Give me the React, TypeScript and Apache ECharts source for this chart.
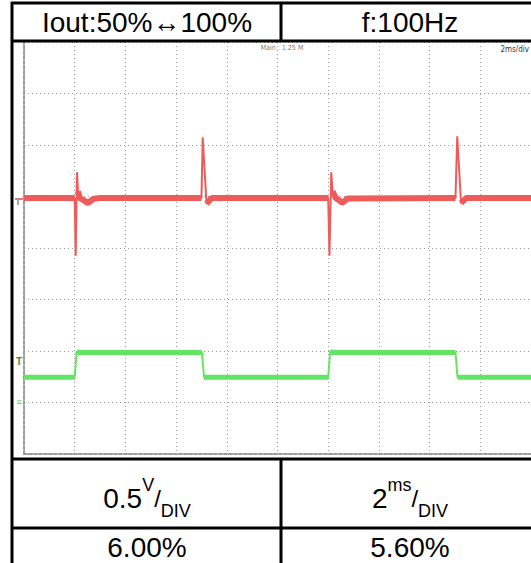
import { useEffect, useRef } from "react";
import * as echarts from "echarts";

// ---- data (time in ms, level in vertical divisions from the bottom of the screen) ----
const redTimeMs = [0, 2.0, 2.04, 2.09, 2.13, 2.2, 2.35, 2.52, 2.72, 3.0, 7.0, 7.05, 7.2, 7.4, 12.0, 12.05, 12.12, 12.17, 12.3, 12.56, 12.76, 17.02, 17.09, 17.24, 17.44, 20];
const redDiv = [4.97, 4.97, 3.85, 5.47, 5.1, 4.97, 4.93, 4.87, 4.95, 4.97, 4.97, 6.15, 4.86, 4.97, 4.97, 3.85, 5.47, 5.1, 4.97, 4.88, 4.96, 4.97, 6.17, 4.87, 4.97, 4.97];
const greenTimeMs = [0, 2.0, 2.08, 2.15, 7.02, 7.1, 12.0, 12.08, 12.15, 17.02, 17.1, 20];
const greenDiv = [1.49, 1.49, 2.0, 1.97, 1.97, 1.49, 1.49, 2.0, 1.97, 1.97, 1.49, 1.49];
const xMinMs = 0;
const xMaxMs = 20;
const xStepMs = 2;
const yMinDiv = 0;
const yMaxDiv = 8;
const redBaseline = 4.97;

const headerLabels = ["Iout:50%\u2194100%", "f:100Hz"];
const scaleNumbers = ["0.5", "2"];
const scaleUnits = ["V", "ms"];
const deviationLabels = ["6.00%", "5.60%"];
const topInfo = ["Main : 1.25 M", "2ms/div"];

const RED = "#ef5b5b";
const GREEN = "#63e563";
const FONT = "'Liberation Sans', Arial, Helvetica, sans-serif";

function zip(t: number[], v: number[]) {
  return t.map((x, i) => [x, v[i]]);
}

// thick "noise band" of the trace: flat parts only, broken where the trace jumps
function bandRed(t: number[], v: number[]) {
  return t.map((x, i) => [x, Math.abs(v[i] - redBaseline) < 0.2 ? v[i] : null]);
}
function bandSteps(t: number[], v: number[]) {
  const out: any[] = [];
  for (let i = 0; i < t.length; i++) {
    if (i > 0 && Math.abs(v[i] - v[i - 1]) > 0.2) {
      out.push([(t[i] + t[i - 1]) / 2, null]);
    }
    out.push([t[i], v[i]]);
  }
  return out;
}

export default function App() {
  const ref = useRef<HTMLDivElement>(null);
  useEffect(() => {
    if (!ref.current) return;
    const chart = echarts.init(ref.current, undefined, { renderer: "svg" });
    const L = 12; // table left border
    const MID = 281; // column divider
    const W = 531;
    const thick = 3;
    const black = "#000";
    const line = (x1: number, y1: number, x2: number, y2: number, w = thick) => ({
      type: "line",
      shape: { x1, y1, x2, y2 },
      style: { stroke: black, lineWidth: w },
      z: 10,
    });
    const colCenters = [147, 410];
    const scaleRich = (i: number) => ({
      type: "text",
      x: colCenters[i],
      y: 498,
      z: 10,
      style: {
        text: `{n|${scaleNumbers[i]}}{u|${scaleUnits[i]}}{s|/}{d|DIV}`,
        textAlign: "center",
        textVerticalAlign: "middle",
        fill: "#000",
        rich: {
          n: { fontSize: 28, fontFamily: FONT, lineHeight: 44, verticalAlign: "middle", fill: "#000" },
          u: { fontSize: 18, fontFamily: FONT, lineHeight: 44, verticalAlign: "top", fill: "#000" },
          s: { fontSize: 24, fontFamily: FONT, lineHeight: 44, verticalAlign: "middle", fill: "#000" },
          d: { fontSize: 18, fontFamily: FONT, lineHeight: 44, verticalAlign: "bottom", fill: "#000" },
        },
      },
    });
    const bigText = (text: string, x: number, y: number) => ({
      type: "text",
      x,
      y,
      z: 10,
      style: {
        text,
        fill: "#000",
        font: `28px ${FONT}`,
        textAlign: "center",
        textVerticalAlign: "middle",
      },
    });

    chart.setOption({
      animation: false,
      backgroundColor: "#fff",
      grid: { left: 24, right: -1, top: 42, bottom: 109, containLabel: false },
      xAxis: {
        type: "value",
        min: xMinMs,
        max: xMaxMs,
        interval: xStepMs,
        axisLabel: { show: false },
        axisTick: { show: false },
        axisLine: { show: true, lineStyle: { color: "#9a9a9a", width: 2, type: [3, 2] } },
        splitLine: { show: true, lineStyle: { color: "#999", width: 1, type: [1, 3] } },
      },
      yAxis: {
        type: "value",
        min: yMinDiv,
        max: yMaxDiv,
        interval: 1,
        axisLabel: { show: false },
        axisTick: { show: false },
        axisLine: { show: true, lineStyle: { color: "#9a9a9a", width: 2, type: [3, 2] } },
        splitLine: { show: true, lineStyle: { color: "#999", width: 1, type: [1, 3] } },
      },
      series: [
        {
          type: "line",
          data: bandSteps(greenTimeMs, greenDiv),
          showSymbol: false,
          connectNulls: false,
          lineStyle: { color: GREEN, width: 5 },
          z: 3,
        },
        {
          type: "line",
          data: zip(greenTimeMs, greenDiv),
          showSymbol: false,
          lineStyle: { color: GREEN, width: 2 },
          z: 3,
        },
        {
          type: "line",
          data: bandRed(redTimeMs, redDiv),
          showSymbol: false,
          connectNulls: false,
          lineStyle: { color: RED, width: 6 },
          z: 4,
        },
        {
          type: "line",
          data: zip(redTimeMs, redDiv),
          showSymbol: false,
          lineStyle: { color: RED, width: 2 },
          z: 4,
        },
      ],
      graphic: [
        // table lines
        line(L - 1, 3, W + 2, 3),
        line(L, 2, L, 563 + 2),
        line(L - 1, 41, W + 2, 41),
        line(MID, 2, MID, 41),
        line(L - 1, 459, W + 2, 459),
        line(L - 1, 528, W + 2, 528),
        line(MID, 459, MID, 565),
        bigText(headerLabels[0], colCenters[0], 22),
        bigText(headerLabels[1], colCenters[1], 22),
        scaleRich(0),
        scaleRich(1),
        bigText(deviationLabels[0], colCenters[0], 547),
        bigText(deviationLabels[1], colCenters[1], 547),
        {
          type: "text",
          x: 282,
          y: 48,
          z: 10,
          style: { text: topInfo[0], fill: "#777", font: `7px 'DejaVu Sans Condensed', ${FONT}`, textAlign: "center", textVerticalAlign: "middle" },
        },
        {
          type: "text",
          x: 529,
          y: 49,
          z: 10,
          style: { text: topInfo[1], fill: "#333", font: `8px 'DejaVu Sans Condensed', ${FONT}`, textAlign: "right", textVerticalAlign: "middle" },
        },
        // channel markers
        { type: "line", shape: { x1: 15, y1: 199, x2: 23, y2: 199 }, style: { stroke: "#c55", lineWidth: 1.5 }, z: 10 },
        { type: "line", shape: { x1: 18, y1: 200, x2: 18, y2: 205 }, style: { stroke: "#555", lineWidth: 1 }, z: 10 },
        {
          type: "text",
          x: 19,
          y: 361,
          z: 10,
          style: { text: "T", fill: "#3a8a3a", font: `bold 10px ${FONT}`, textAlign: "center", textVerticalAlign: "middle" },
        },
        {
          type: "text",
          x: 19,
          y: 402,
          z: 10,
          style: { text: "\u2261", fill: "#4c4", font: `9px ${FONT}`, textAlign: "center", textVerticalAlign: "middle" },
        },
      ],
    });
    return () => chart.dispose();
  }, []);
  return (
    <div
      ref={ref}
      style={{ position: "fixed", left: 0, top: 0, width: 531, height: 563, background: "#fff" }}
    />
  );
}
